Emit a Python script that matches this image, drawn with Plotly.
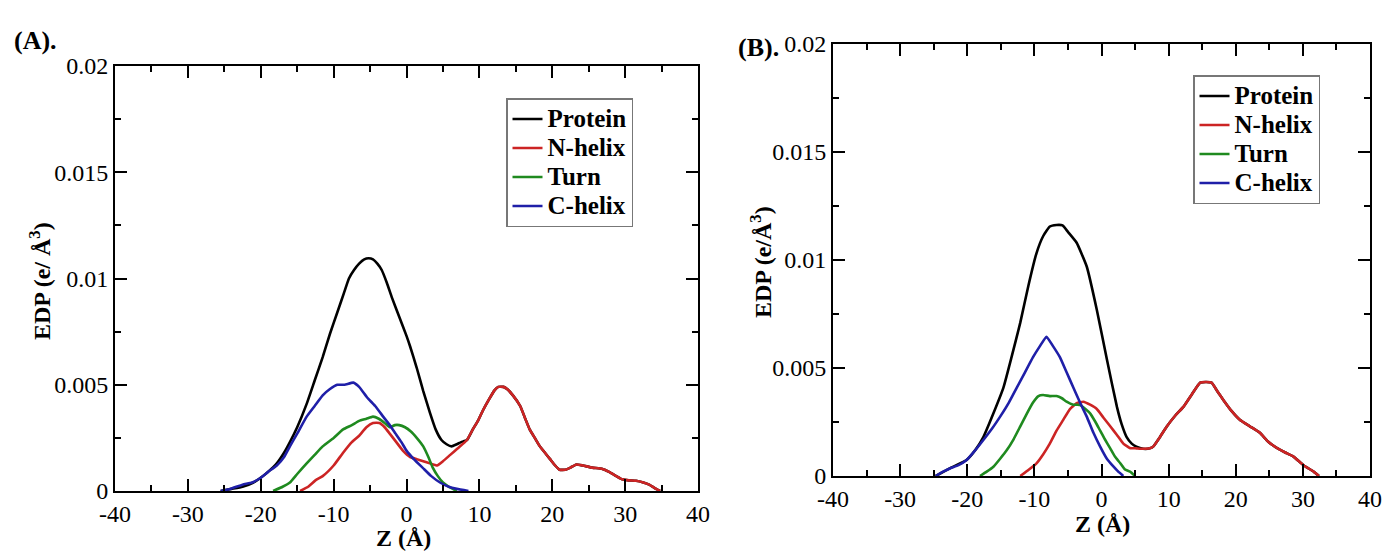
import plotly.graph_objects as go

# ---------------- Panel A data ----------------
Z_A_PROTEIN = [-25.5, -24, -22.5, -21, -20.1, -19, -17.8, -16.8, -16, -15, -13.7, -12.6, -11.5, -10.5,
               -9.5, -8.6, -7.9, -7.2, -6.5, -5.8, -5.2, -4.6, -4.0, -3.4, -2.7, -2.0, -1.0, 0.0,
               0.5, 1.4, 2.3, 3.2, 4.0, 4.8, 5.5, 6.2, 6.9, 7.5, 8.3, 9.1, 9.8, 10.5, 11.3, 12.1,
               12.6, 13.3, 13.8, 14.6, 15.6, 16.3, 16.9, 17.6, 18.3, 19.0, 19.7, 20.4, 21.0, 21.8,
               22.5, 23.3, 24.2, 25.5, 26.8, 27.8, 28.8, 29.6, 30.5, 31.5, 32.5, 33.3, 34.0, 34.8]
EDP_A_PROTEIN = [0, 0.0001, 0.0002, 0.0004, 0.0006, 0.0009, 0.0013, 0.0018, 0.0023, 0.0030, 0.0041,
                 0.0052, 0.0063, 0.0074, 0.0084, 0.0093, 0.0100, 0.0104, 0.0107, 0.0109, 0.01095,
                 0.0109, 0.0107, 0.0104, 0.0098, 0.0091, 0.0082, 0.0073, 0.0068, 0.0058, 0.0047,
                 0.0037, 0.0029, 0.0024, 0.0022, 0.0021, 0.0022, 0.0023, 0.0024, 0.0029, 0.0033,
                 0.0038, 0.0043, 0.00475, 0.0049, 0.0049, 0.0048, 0.0045, 0.0040, 0.0034, 0.0029,
                 0.0025, 0.0021, 0.0018, 0.0015, 0.0012, 0.0010, 0.0010, 0.0011, 0.00125, 0.0012,
                 0.0011, 0.00105, 0.0009, 0.0007, 0.00055, 0.0005, 0.00048, 0.0004, 0.0003,
                 0.00015, 0]

Z_A_NHELIX = [-14.6, -13.5, -12.5, -11.5, -10, -8.7, -7.5, -6.5, -5.5, -4.6, -3.7, -3.0, -2.3, -1.4,
              -0.5, 0.5, 1.4, 2.3, 3.2, 4.2, 5.0, 6.0, 7.0, 8.3, 9.1, 9.8, 10.5, 11.3, 12.1, 12.6,
              13.3, 13.8, 14.6, 15.6, 16.3, 16.9, 17.6, 18.3, 19.0, 19.7, 20.4, 21.0, 21.8, 22.5,
              23.3, 24.2, 25.5, 26.8, 27.8, 28.8, 29.6, 30.5, 31.5, 32.5, 33.3, 34.0, 34.8]
EDP_A_NHELIX = [0, 0.0002, 0.0005, 0.0007, 0.0012, 0.0018, 0.0023, 0.0026, 0.0030, 0.0032, 0.0032,
                0.0030, 0.0027, 0.0023, 0.0019, 0.0016, 0.0015, 0.0014, 0.0013, 0.0012, 0.0014,
                0.0017, 0.0020, 0.0024, 0.0029, 0.0033, 0.0038, 0.0043, 0.00475, 0.0049, 0.0049,
                0.0048, 0.0045, 0.0040, 0.0034, 0.0029, 0.0025, 0.0021, 0.0018, 0.0015, 0.0012,
                0.0010, 0.0010, 0.0011, 0.00125, 0.0012, 0.0011, 0.00105, 0.0009, 0.0007, 0.00055,
                0.0005, 0.00048, 0.0004, 0.0003, 0.00015, 0]

Z_A_TURN = [-18.3, -17, -16, -15, -13.7, -12.6, -11.5, -10, -8.7, -7.5, -6.5, -5.5, -4.6, -3.8, -3.0,
            -2.3, -1.6, -1.0, -0.2, 0.6, 1.4, 2.3, 3.0, 3.6, 4.3, 5.0, 5.8, 6.9]
EDP_A_TURN = [0, 0.0002, 0.0004, 0.0008, 0.0013, 0.0017, 0.0021, 0.0025, 0.0029, 0.0031, 0.0033,
              0.0034, 0.0035, 0.0034, 0.0032, 0.0030, 0.0031, 0.0031, 0.0030, 0.0028, 0.0025,
              0.0021, 0.0016, 0.0011, 0.0007, 0.0004, 0.0002, 0]

Z_A_CHELIX = [-25.5, -24.2, -22.5, -21.2, -20.1, -19, -17.8, -16.8, -16, -15, -13.7, -12.6, -11.5,
              -10.5, -9.5, -8.5, -7.3, -6.5, -5.4, -4.3, -3.2, -2.3, -1.5, -0.7, 0, 1.0, 2.2, 3.4,
              4.6, 5.8, 6.9, 8.5]
EDP_A_CHELIX = [0, 0.0001, 0.0003, 0.0004, 0.0006, 0.0009, 0.0012, 0.0016, 0.0021, 0.0027, 0.0035,
                0.0040, 0.0045, 0.0048, 0.0050, 0.0050, 0.0051, 0.0049, 0.0044, 0.0040, 0.0035,
                0.0031, 0.0027, 0.0023, 0.0019, 0.0015, 0.0011, 0.0007, 0.0004, 0.0002, 0.0001, 0]

# ---------------- Panel B data ----------------
Z_B_PROTEIN = [-24.7, -22.6, -20.1, -18.8, -17.6, -16.1, -14.6, -13.4, -12.1, -10.9, -9.7, -8.7,
               -7.7, -6.7, -5.8, -5.0, -3.7, -2.2, -0.7, 0.8, 2.3, 3.0, 3.75, 4.5, 5.2, 6.2, 7.2,
               7.7, 8.7, 9.7, 11.0, 12.2, 13.5, 14.7, 15.5, 16.4, 17.3, 18.2, 19.4, 20.6, 22.1,
               23.6, 24.8, 26.1, 27.3, 28.6, 30.1, 31.6, 32.4]
EDP_B_PROTEIN = [0, 0.00035, 0.00074, 0.0012, 0.0018, 0.0029, 0.0041, 0.0055, 0.0071, 0.0088,
                 0.0103, 0.0111, 0.01155, 0.01162, 0.0116, 0.0113, 0.0108, 0.0097, 0.0077, 0.0054,
                 0.0032, 0.0024, 0.0018, 0.0015, 0.00136, 0.00126, 0.00128, 0.00136, 0.0018,
                 0.00228, 0.0028, 0.0032, 0.0038, 0.00432, 0.00435, 0.00432, 0.0039, 0.0035,
                 0.0030, 0.0026, 0.0023, 0.0020, 0.0016, 0.0013, 0.0011, 0.0009, 0.0005, 0.0002, 0]

Z_B_NHELIX = [-12.1, -10.8, -9.65, -8.7, -7.7, -6.7, -5.7, -4.7, -3.7, -2.7, -1.7, -0.7, 0.3, 1.3,
              2.3, 3.25, 4.2, 5.2, 6.2, 7.2, 7.7, 8.7, 9.7, 11.0, 12.2, 13.5, 14.7, 15.5, 16.4,
              17.3, 18.2, 19.4, 20.6, 22.1, 23.6, 24.8, 26.1, 27.3, 28.6, 30.1, 31.6, 32.4]
EDP_B_NHELIX = [0, 0.0003, 0.0006, 0.0010, 0.0015, 0.0021, 0.0026, 0.0031, 0.00337, 0.00344, 0.0033,
                0.0031, 0.0027, 0.0023, 0.0019, 0.0015, 0.0013, 0.00128, 0.00126, 0.00128, 0.00136,
                0.0018, 0.00228, 0.0028, 0.0032, 0.0038, 0.00432, 0.00435, 0.00432, 0.0039, 0.0035,
                0.0030, 0.0026, 0.0023, 0.0020, 0.0016, 0.0013, 0.0011, 0.0009, 0.0005, 0.0002, 0]

Z_B_TURN = [-18.1, -17.1, -16.1, -15.1, -14.1, -13.1, -12.1, -11.1, -10.2, -9.4, -8.7, -7.7, -6.7,
            -5.9, -5.2, -4.2, -3.2, -2.4, -1.7, -0.9, -0.2, 0.5, 1.3, 2.0, 2.8, 3.5, 4.25, 5.0]
EDP_B_TURN = [0, 0.0002, 0.00043, 0.0008, 0.0012, 0.0017, 0.0023, 0.0029, 0.0034, 0.0037, 0.00375,
              0.0037, 0.0037, 0.0036, 0.00344, 0.0033, 0.00329, 0.0031, 0.0029, 0.0025, 0.0021,
              0.0017, 0.00128, 0.0009, 0.00059, 0.0003, 0.0002, 0]

Z_B_CHELIX = [-24.7, -23.6, -22.6, -21.3, -20.1, -18.8, -17.6, -16.3, -15.1, -13.8, -12.6, -11.4,
              -10.2, -9.2, -8.2, -7.2, -6.2, -5.2, -4.2, -3.2, -2.2, -1.2, -0.2, 0.8, 1.8, 2.5, 3.25]
EDP_B_CHELIX = [0, 0.0002, 0.00035, 0.0005, 0.00074, 0.0012, 0.00167, 0.0022, 0.00275, 0.0034,
                0.0041, 0.0048, 0.0055, 0.0060, 0.00645, 0.0060, 0.0055, 0.0048, 0.0041, 0.0034,
                0.00275, 0.0020, 0.00136, 0.0008, 0.00043, 0.0002, 0]

SERIES_NAMES = ["Protein", "N-helix", "Turn", "C-helix"]
SERIES_COLORS = ["#000000", "#cc2424", "#1f8a1f", "#1f1fa8"]

X_TICKS = [-40, -30, -20, -10, 0, 10, 20, 30, 40]
X_TICK_TEXT = ["-40", "-30", "-20", "-10", "0", "10", "20", "30", "40"]
Y_TICKS = [0, 0.005, 0.01, 0.015, 0.02]
Y_TICK_TEXT = ["0", "0.005", "0.01", "0.015", "0.02"]

FONT = "Liberation Serif, Times New Roman, serif"

fig = go.Figure()

panels = [
    ("x", "y", "legend", [(Z_A_PROTEIN, EDP_A_PROTEIN), (Z_A_NHELIX, EDP_A_NHELIX),
                          (Z_A_TURN, EDP_A_TURN), (Z_A_CHELIX, EDP_A_CHELIX)]),
    ("x2", "y2", "legend2", [(Z_B_PROTEIN, EDP_B_PROTEIN), (Z_B_NHELIX, EDP_B_NHELIX),
                             (Z_B_TURN, EDP_B_TURN), (Z_B_CHELIX, EDP_B_CHELIX)]),
]
for xa, ya, lg, data in panels:
    for (zz, vv), name, col in zip(data, SERIES_NAMES, SERIES_COLORS):
        fig.add_trace(go.Scatter(
            x=zz, y=vv, mode="lines", xaxis=xa, yaxis=ya, legend=lg,
            name='<span style="font-size:25px">' + name + '</span>',
            line=dict(color=col, width=2.6, shape="spline", smoothing=0.4)))

W, H = 1386, 551
axis_common = dict(showline=True, linewidth=2, linecolor="black", mirror="ticks",
                   ticks="inside", ticklen=12, tickwidth=2, tickcolor="black",
                   showgrid=False, zeroline=False, automargin=False,
                   tickfont=dict(family=FONT, size=24, color="black"))
xcommon = dict(axis_common, range=[-40, 40], tickvals=X_TICKS, ticktext=X_TICK_TEXT,
               minor=dict(dtick=5, ticks="inside", ticklen=6, tickwidth=2, tickcolor="black"))
ycommon = dict(axis_common, range=[0, 0.02], tickvals=Y_TICKS, ticktext=Y_TICK_TEXT,
               minor=dict(dtick=0.0025, ticks="inside", ticklen=6, tickwidth=2, tickcolor="black"))

# pixel boxes of the two plotting areas
A = dict(l=115, r=698, t=66, b=491)
B = dict(l=833, r=1370, t=44, b=476)

def dom(p):
    return [p["l"] / W, p["r"] / W], [(H - p["b"]) / H, (H - p["t"]) / H]

ax_dx, ax_dy = dom(A)
bx_dx, bx_dy = dom(B)

legend_style = dict(bgcolor="white", bordercolor="#777777", borderwidth=1.5,
                    font=dict(family=FONT, size=20, color="black", weight="bold"),
                    xanchor="left", yanchor="top", tracegroupgap=0, itemwidth=30)

fig.update_layout(
    template="none",
    width=W, height=H, margin=dict(l=0, r=0, t=0, b=0, autoexpand=False),
    paper_bgcolor="white", plot_bgcolor="white",
    xaxis=dict(xcommon, domain=ax_dx, anchor="y"),
    yaxis=dict(ycommon, domain=ax_dy, anchor="x"),
    xaxis2=dict(xcommon, domain=bx_dx, anchor="y2"),
    yaxis2=dict(ycommon, domain=bx_dy, anchor="x2"),
    legend=dict(legend_style, x=506 / W, y=(H - 98) / H),
    legend2=dict(legend_style, x=1193 / W, y=(H - 75) / H),
    showlegend=True,
)

bold = dict(family=FONT, size=24, color="black", weight="bold")
ann = [
    dict(text="(A).", x=12 / W, y=(H - 40) / H, xanchor="left", yanchor="middle",
         font=dict(bold, size=26)),
    dict(text="(B).", x=736 / W, y=(H - 47) / H, xanchor="left", yanchor="middle",
         font=dict(bold, size=26)),
    dict(text="EDP (e/ Å<sup>3</sup>)", x=40 / W, y=(H - 281) / H, textangle=-90,
         xanchor="center", yanchor="middle", font=bold),
    dict(text="EDP (e/Å<sup>3</sup>)", x=761 / W, y=(H - 262) / H, textangle=-90,
         xanchor="center", yanchor="middle", font=bold),
    dict(text="Z (Å)", x=404 / W, y=(H - 538) / H, xanchor="center", yanchor="middle", font=bold),
    dict(text="Z (Å)", x=1102 / W, y=(H - 524) / H, xanchor="center", yanchor="middle", font=bold),
]
for a in ann:
    a.update(xref="paper", yref="paper", showarrow=False)
fig.update_layout(annotations=ann)

fig.write_html("out.html",
               post_script="document.body.style.margin='0';document.body.style.overflow='hidden';")
